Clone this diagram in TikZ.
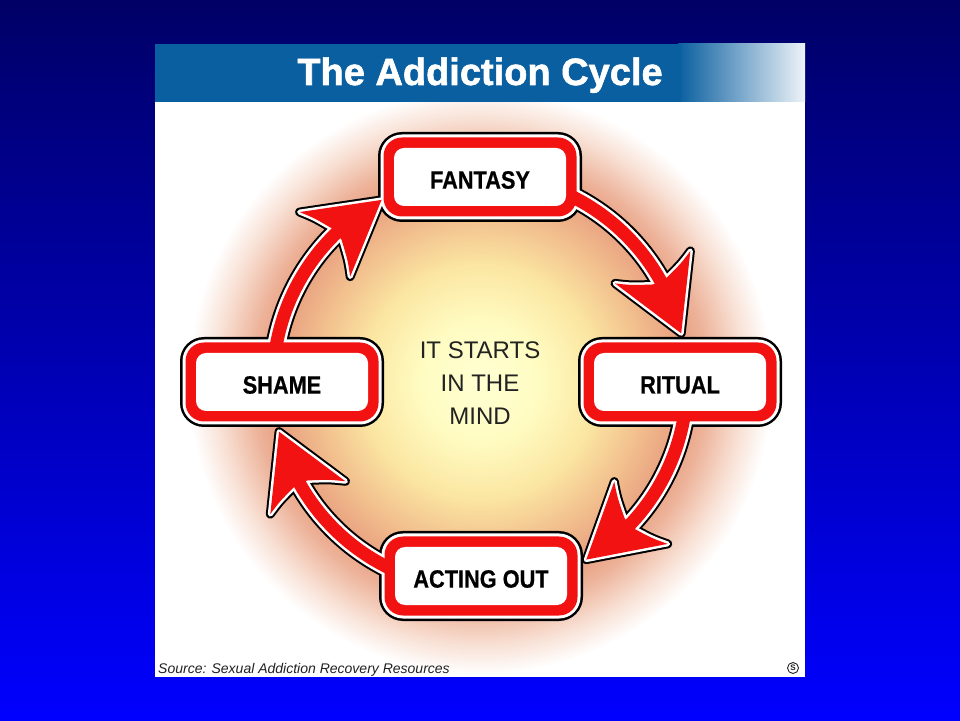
\documentclass[tikz,border=0pt]{standalone}
\usepackage{fontspec}
\setmainfont{Liberation Sans}
\newfontfamily\titlefont{Liberation Sans}[BoldFeatures={FakeBold=1.5}]
\newfontfamily\labfont{Liberation Sans}[FakeStretch=0.87, BoldFeatures={FakeBold=0.6}]
\definecolor{bgtop}{HTML}{000066}
\definecolor{bgbot}{HTML}{0000FF}
\definecolor{tbar}{HTML}{0A5FA0}
\definecolor{tbarend}{HTML}{EEF3F8}
\definecolor{ared}{HTML}{F21212}
\definecolor{tgray}{HTML}{222222}
\definecolor{g0}{HTML}{FFFFD2}
\definecolor{g1}{HTML}{FFFCC2}
\definecolor{g2}{HTML}{FBE6A2}
\definecolor{g3}{HTML}{F2C08E}
\definecolor{g4}{HTML}{E89F80}
\definecolor{g5}{HTML}{EDB39A}
\definecolor{g6}{HTML}{F8E0D4}
\pgfdeclareradialshading{glow}{\pgfpoint{0bp}{0bp}}{color(0bp)=(g0); color(5bp)=(g1); color(10bp)=(g2); color(14bp)=(g3); color(17.5bp)=(g4); color(19.5bp)=(g5); color(22.5bp)=(g6); color(25bp)=(white); color(50bp)=(white)}
\newcommand\cycarrow[3]{%
  \draw[shaft#3] (#1:207) arc[start angle=#1, end angle=#2+14, radius=207];
  \path[head#3, shift={(#2:207)}, rotate=#2-80.3] (0,0) -- (-72,41) .. controls (-64,27) .. (-56,6.5) -- (-56,-6.5) .. controls (-64,-27) .. (-72,-41) -- cycle;}
\begin{document}
\begin{tikzpicture}[x=1pt,y=1pt,
  boxk/.style={rectangle, fill=black, minimum width=204pt, minimum height=90pt, rounded corners=24pt, inner sep=0pt},
  boxw/.style={rectangle, fill=white, minimum width=199pt, minimum height=85pt, rounded corners=21.5pt, inner sep=0pt},
  boxr/.style={rectangle, fill=ared, minimum width=193pt, minimum height=79pt, rounded corners=18.5pt, inner sep=0pt},
  boxin/.style={rectangle, fill=white, minimum width=172pt, minimum height=58pt, rounded corners=10pt, inner sep=0pt},
  boxlabel/.style={inner sep=0pt, text=black, yshift=-3pt, font=\labfont\bfseries\fontsize{25}{25}\selectfont},
  shaftk/.style={draw=black, line width=22pt},
  shaftw/.style={draw=white, line width=18pt},
  shaftr/.style={draw=ared, line width=13pt},
  headk/.style={draw=black, fill=black, line width=9pt, line join=round},
  headw/.style={draw=white, fill=white, line width=5pt, line join=round},
  headr/.style={fill=ared},
]
\useasboundingbox (0,0) rectangle (960,720);
\shade[top color=bgtop, bottom color=bgbot] (0,0) rectangle (960,720);
% panel
\fill[white] (155,43) rectangle (805,676);
\begin{scope}
\clip (155,43) rectangle (805,676);
\shade[shading=glow] (480,338) circle (292);
\end{scope}
% title bar
\shade[left color=tbar, right color=tbarend] (678,618) rectangle (805,676);
\fill[tbar] (155,618) rectangle (681,676);
\node[anchor=base, text=white, inner sep=0pt, font=\titlefont\bfseries\fontsize{38}{38}\selectfont] (title) at (480,635) {The Addiction Cycle};
% layer: black
\node[boxk] (fan-k) at (480,543) {};
\node[boxk] (rit-k) at (680,338) {};
\node[boxk] (sha-k) at (282,338) {};
\node[boxk] (act-k) at (481,144) {};
\begin{scope}[shift={(480,338)}]
\cycarrow{75}{13.6}{k}
\cycarrow{-3}{-59.1}{k}
\cycarrow{255}{193.9}{k}
\cycarrow{177}{118.4}{k}
\end{scope}
% layer: white
\node[boxw] (fan-w) at (480,543) {};
\node[boxw] (rit-w) at (680,338) {};
\node[boxw] (sha-w) at (282,338) {};
\node[boxw] (act-w) at (481,144) {};
\begin{scope}[shift={(480,338)}]
\cycarrow{75}{13.6}{w}
\cycarrow{-3}{-59.1}{w}
\cycarrow{255}{193.9}{w}
\cycarrow{177}{118.4}{w}
\end{scope}
% layer: red
\node[boxr] (fan-r) at (480,543) {};
\node[boxr] (rit-r) at (680,338) {};
\node[boxr] (sha-r) at (282,338) {};
\node[boxr] (act-r) at (481,144) {};
\begin{scope}[shift={(480,338)}]
\cycarrow{75}{13.6}{r}
\cycarrow{-3}{-59.1}{r}
\cycarrow{255}{193.9}{r}
\cycarrow{177}{118.4}{r}
\end{scope}
% interiors and labels
\node[boxin] (fan-i) at (480,543) {};
\node[boxin] (rit-i) at (680,338) {};
\node[boxin] (sha-i) at (282,338) {};
\node[boxin] (act-i) at (481,144) {};
\node[boxlabel] (fantasy) at (fan-i.center) {FANTASY};
\node[boxlabel] (ritual) at (rit-i.center) {RITUAL};
\node[boxlabel] (shame) at (sha-i.center) {SHAME};
\node[boxlabel] (acting) at (act-i.center) {ACTING OUT};
% centre text
\node[align=center, text=tgray, inner sep=0pt, font=\fontsize{24}{33.3}\selectfont] (mind) at (480,336.7) {IT STARTS\\IN THE\\MIND};
% source
\node[anchor=base west, inner sep=0pt, text=tgray, font=\itshape\fontsize{14}{14}\selectfont] (src) at (158,47) {Source: Sexual Addiction Recovery Resources};
\node[circle, draw=tgray, line width=0.9pt, minimum size=11pt, inner sep=0pt, text=tgray, font=\bfseries\fontsize{8}{8}\selectfont] (sym) at (793,52) {S};
\end{tikzpicture}
\end{document}
